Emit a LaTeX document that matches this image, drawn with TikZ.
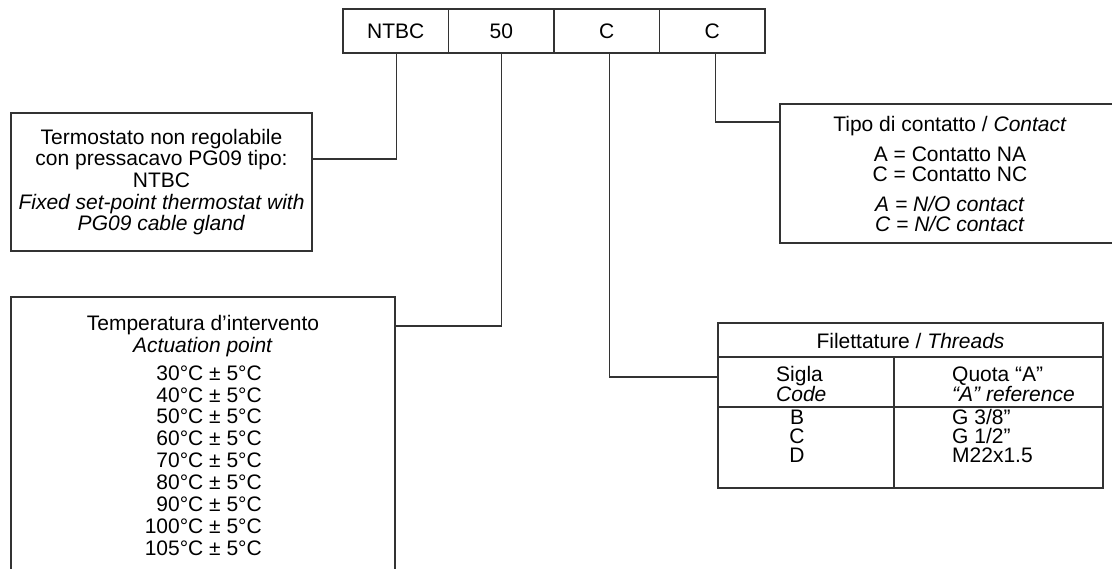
\documentclass[tikz,border=0pt]{standalone}
\usepackage{fontspec}
\setmainfont{Liberation Sans}
\usepackage{tikz}
\usetikzlibrary{positioning}
\definecolor{ink}{gray}{0.2}
\tikzset{txt/.style={inner sep=0pt,align=center,text=black,font=\fontsize{21}{21.7}\selectfont},
  cell/.style={txt,draw=ink,line width=1.2pt,outer sep=0pt,minimum width=105.5pt,minimum height=44pt},
  box/.style={txt,draw=ink,line width=1.2pt,outer sep=0pt},
  link/.style={draw=ink,line width=1.2pt}}

\begin{document}
\begin{tikzpicture}[x=1pt,y=-1pt]
\path[use as bounding box] (0,0) rectangle (1112,569);
\clip (0,0) rectangle (1112,569);
% code cells
\node[cell] (ntbc) at (395.75,31) {NTBC};
\node[cell,right=0pt of ntbc] (deg) {50};
\node[cell,right=0pt of deg] (thd) {C};
\node[cell,right=0pt of thd] (cnt) {C};
% boxes
\node[box,minimum width=301pt,minimum height=138pt] (term) at (161.5,182)
  {Termostato non regolabile\\con pressacavo PG09 tipo:\\NTBC\\\textit{Fixed set-point thermostat with}\\\textit{PG09 cable gland}};
\node[box,minimum width=384pt,minimum height=300pt,anchor=north] (temp) at (203,297) {};
\node[txt] (temphead) at (203,336) {Temperatura d’intervento\\\textit{Actuation point}};
\node[txt,align=right,anchor=east,font=\fontsize{21}{21.9}\selectfont] (templist) at (262,460.5)
  {30°C ± 5°C\\40°C ± 5°C\\50°C ± 5°C\\60°C ± 5°C\\70°C ± 5°C\\80°C ± 5°C\\90°C ± 5°C\\100°C ± 5°C\\105°C ± 5°C};
\node[box,minimum width=340pt,minimum height=139pt,font=\fontsize{21}{20}\selectfont] (con) at (950,173.5)
  {Tipo di contatto / \textit{Contact}\\[10pt]A = Contatto NA\\C = Contatto NC\\[10pt]\textit{A = N/O contact}\\\textit{C = N/C contact}};
% threads table
\node[box,minimum width=385pt,minimum height=165pt] (thr) at (910.5,405.5) {};
\draw[link] ([yshift=-34pt]thr.north west) -- ([yshift=-34pt]thr.north east);
\draw[link] ([yshift=-84pt]thr.north west) -- ([yshift=-84pt]thr.north east);
\draw[link] ([xshift=176pt,yshift=-34pt]thr.north west) -- ([xshift=176pt]thr.south west);
\node[txt] (thrhead) at (910.5,341) {Filettature / \textit{Threads}};
\node[txt,align=left,anchor=west,font=\fontsize{21}{18.5}\selectfont] (sigla) at (776,384) {Sigla\\\textit{Code}};
\node[txt,align=left,anchor=west,font=\fontsize{21}{18.5}\selectfont] (quota) at (952,384) {Quota “A”\\\textit{“A” reference}};
\node[txt,font=\fontsize{21}{19}\selectfont] (codes) at (797,436) {B\\C\\D};
\node[txt,align=left,anchor=west,font=\fontsize{21}{19}\selectfont] (sizes) at (952,436) {G 3/8”\\G 1/2”\\M22x1.5};
% connectors
\draw[link] ([xshift=0.5pt]ntbc.south) |- ([yshift=-46pt]term.north east);
\draw[link] (deg.south) |- ([yshift=-29pt]temp.north east);
\draw[link] ([xshift=3pt]thd.south) |- ([yshift=-54pt]thr.north west);
\draw[link] ([xshift=3.5pt]cnt.south) |- ([yshift=-18pt]con.north west);
\end{tikzpicture}
\end{document}
